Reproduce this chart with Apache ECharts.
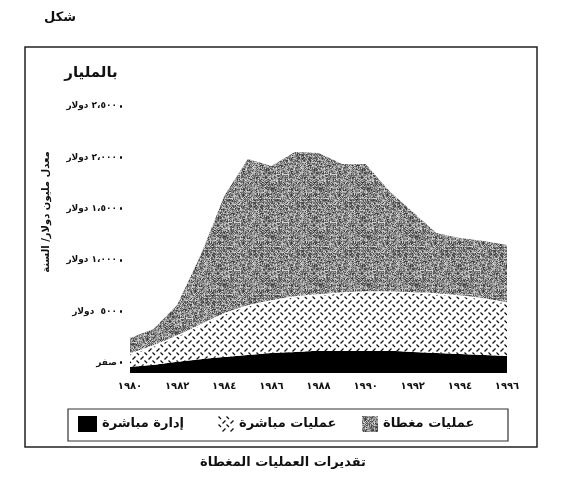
<!DOCTYPE html>
<html><head><meta charset="utf-8">
<script src="https://cdn.jsdelivr.net/npm/echarts@6/dist/echarts.min.js"></script>
<style>html,body{margin:0;padding:0;background:#fff}#c{width:567px;height:492px}</style>
</head><body><div id="c"></div>
<script>
const years = ['١٩٨٠','١٩٨١','١٩٨٢','١٩٨٣','١٩٨٤','١٩٨٥','١٩٨٦','١٩٨٧','١٩٨٨','١٩٨٩','١٩٩٠','١٩٩١','١٩٩٢','١٩٩٣','١٩٩٤','١٩٩٥','١٩٩٦'];
const directManagement = [60,80,110,135,155,175,195,205,215,215,215,215,205,195,185,175,165];
const directOperations = [125,183,250,332,420,477,506,535,545,564,574,574,574,574,565,546,517];
const coveredOperations = [156,165,302,682,1149,1432,1315,1412,1382,1256,1246,983,789,594,565,564,564];
const yTicks = [0,500,1000,1500,2000,2500];
const yTickLabels = ['صفر','٥٠٠  دولار','١،٠٠٠ دولار','١،٥٠٠ دولار','٢،٠٠٠ دولار','٢،٥٠٠ دولار'];
const seriesNames = ['إدارة مباشرة','عمليات مباشرة','عمليات مغطاة'];

const FONT = 'DejaVu Sans';

function noiseTile(){
  const n=48, c=document.createElement('canvas'); c.width=c.height=n;
  const ctx=c.getContext('2d'); const img=ctx.createImageData(n,n);
  for(let y=0;y<n;y++)for(let x=0;x<n;x++){
    let h=(x*374761393 + y*668265263)|0; h=Math.imul(h^(h>>>13),1274126177); h=(h^(h>>>16))>>>0;
    let v=55+(h%150); if(x%6===0||y%6===0) v=Math.min(255,v+25);
    const i=(y*n+x)*4; img.data[i]=img.data[i+1]=img.data[i+2]=v; img.data[i+3]=255;
  }
  ctx.putImageData(img,0,0); return c;
}
function crossTile(){
  const c=document.createElement('canvas'); c.width=c.height=8;
  const ctx=c.getContext('2d'); ctx.fillStyle='#fff'; ctx.fillRect(0,0,8,8);
  ctx.strokeStyle='#111'; ctx.lineWidth=1.3;
  ctx.beginPath(); ctx.moveTo(0.5,0.5); ctx.lineTo(3,3); ctx.stroke();
  ctx.beginPath(); ctx.moveTo(4.5,7.5); ctx.lineTo(7.5,4.5); ctx.stroke();
  return c;
}
const grayPat = {image: noiseTile(), repeat:'repeat'};
const crossPat = {image: crossTile(), repeat:'repeat'};
const legendColors = ['#000', crossPat, grayPat];
const legendLefts = [78, 218, 362];

const chart = echarts.init(document.getElementById('c'), null, {renderer:'canvas'});
chart.setOption({
  animation:false,
  backgroundColor:'#fff',
  textStyle:{fontFamily:FONT},
  grid:{left:130,right:60,top:106,bottom:119},
  legend: seriesNames.map(function(n,i){return {
    left:legendLefts[i], top:416, itemWidth:i===0?19:16, itemHeight:16, padding:0,
    textStyle:{fontFamily:FONT,fontWeight:'bold',fontSize:13,color:'#111'},
    data:[{name:n,icon:'rect',itemStyle:{color:legendColors[i]}}]
  };}),
  xAxis:{
    type:'category', data:years, boundaryGap:false,
    axisLine:{show:false}, axisTick:{show:false},
    axisLabel:{interval:1,fontFamily:FONT,fontWeight:'bold',fontSize:10,color:'#111',margin:8}
  },
  yAxis:[
    {type:'value',min:0,max:2600,show:false},
    {type:'value',min:-100,max:2500,position:'left',offset:8,splitLine:{show:false},
     axisLine:{show:false},
     axisTick:{show:true,length:2,customValues:yTicks,lineStyle:{color:'#111',width:2.5}},
     axisLabel:{customValues:yTicks,margin:5,fontFamily:FONT,fontWeight:'bold',fontSize:9,color:'#111',
       formatter:function(v){const i=yTicks.indexOf(v);return i>=0?yTickLabels[i]:'';}}
    }
  ],
  series:[
    {name:seriesNames[0],type:'line',stack:'t',yAxisIndex:0,data:directManagement,smooth:0.4,
     showSymbol:false,lineStyle:{width:0},itemStyle:{color:'#000'},areaStyle:{color:'#000',opacity:1}},
    {name:seriesNames[1],type:'line',stack:'t',yAxisIndex:0,data:directOperations,smooth:0.4,
     showSymbol:false,lineStyle:{width:1.5,color:'#fff'},itemStyle:{color:crossPat},areaStyle:{color:crossPat,opacity:1}},
    {name:seriesNames[2],type:'line',stack:'t',yAxisIndex:0,data:coveredOperations,smooth:false,
     showSymbol:false,lineStyle:{width:0},itemStyle:{color:grayPat},areaStyle:{color:grayPat,opacity:1}}
  ],
  graphic:[
    {type:'rect',shape:{x:25,y:47,width:512,height:400},style:{fill:'none',stroke:'#222',lineWidth:1.5},silent:true},
    {type:'rect',shape:{x:68,y:409,width:440,height:32},style:{fill:'none',stroke:'#333',lineWidth:1.2},silent:true,z:-1},
    {type:'text',x:60,y:18,style:{text:'شكل',font:'bold 13px "DejaVu Sans"',fill:'#111',align:'center',verticalAlign:'middle'}},
    {type:'text',x:91,y:73,style:{text:'بالمليار',font:'bold 15px "DejaVu Sans"',fill:'#111',align:'center',verticalAlign:'middle'}},
    {type:'text',x:46,y:212,rotation:Math.PI/2,style:{text:'معدل مليون دولار/ السنة',font:'bold 10px "DejaVu Sans"',fill:'#111',align:'center',verticalAlign:'middle'}},
    {type:'text',x:283,y:463,style:{text:'تقديرات العمليات المغطاة',font:'bold 13px "DejaVu Sans"',fill:'#111',align:'center',verticalAlign:'middle'}}
  ]
});
</script></body></html>
